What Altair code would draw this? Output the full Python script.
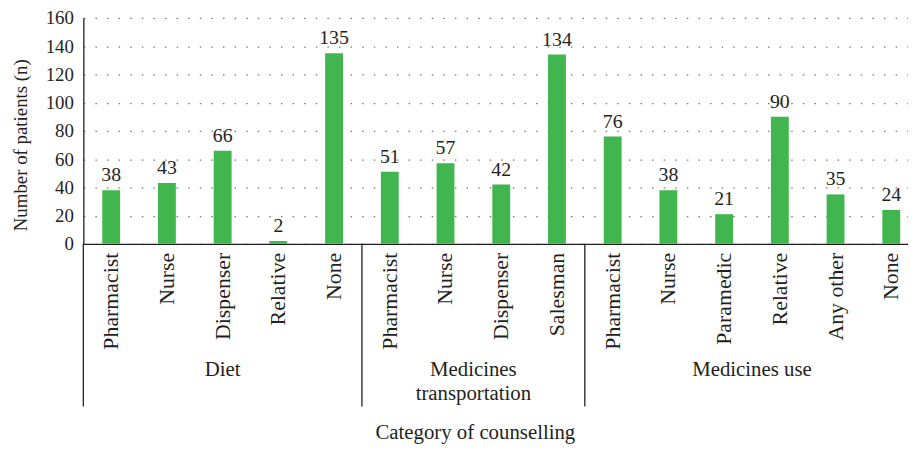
import altair as alt
import pandas as pd

# ---- data ----
roles = ["Pharmacist", "Nurse", "Dispenser", "Relative", "None",
         "Pharmacist", "Nurse", "Dispenser", "Salesman",
         "Pharmacist", "Nurse", "Paramedic", "Relative", "Any other", "None"]
counts = [38, 43, 66, 2, 135, 51, 57, 42, 134, 76, 38, 21, 90, 35, 24]
group_names = ["Diet", "Medicines\ntransportation", "Medicines use"]
group_sizes = [5, 4, 6]
y_ticks = [0, 20, 40, 60, 80, 100, 120, 140, 160]

FONT = "Liberation Serif"
FS = 20      # value labels
FY = 19      # tick labels
FT = 21      # words
FR = 22      # rotated category labels
INK = "#231f20"
GREEN = "#41b54e"

# tables built from the lists
bars = pd.DataFrame({"idx": list(range(len(roles))), "role": roles, "count": counts})
starts, s = [], 0
for n in group_sizes:
    starts.append(s)
    s += n
groups = pd.DataFrame({"gname": group_names, "start": starts,
                       "end": [a + b for a, b in zip(starts, group_sizes)]})
seps = pd.DataFrame({"b": starts})

H = 228
xscale = alt.Scale(domain=[0, 14.8], nice=False, zero=False, padding=0)
yscale = alt.Scale(domain=[0, 160], nice=False, padding=0)

xaxis = alt.Axis(labels=False, ticks=False, grid=False, domain=True,
                 domainColor=INK, domainWidth=1.3,
                 title="Category of counselling",
                 titleX=395, titleY=196, titleBaseline="alphabetic",
                 titleFont=FONT, titleFontSize=FT,
                 titleFontWeight="normal", titleColor=INK)
yaxis = alt.Axis(values=y_ticks, ticks=False, labelPadding=10,
                 labelFont=FONT, labelFontSize=FY, labelColor=INK,
                 grid=True, gridDash=[1.5, 10.2], gridColor="#777777",
                 gridWidth=1.4, domainColor=INK, domainWidth=1.3,
                 title="Number of patients (n)",
                 titleX=-63, titleY=128, titleAngle=270,
                 titleAlign="center", titleBaseline="middle",
                 titleFont=FONT, titleFontSize=19,
                 titleFontWeight="normal", titleColor=INK)

base = alt.Chart(bars).transform_calculate(pos="datum.idx + 0.5")

bar_layer = base.mark_bar(size=18, color=GREEN).encode(
    x=alt.X("pos:Q", scale=xscale, axis=xaxis),
    y=alt.Y("count:Q", scale=yscale, axis=yaxis),
)

value_labels = base.mark_text(font=FONT, fontSize=FS, color=INK,
                              baseline="alphabetic", dy=-9).encode(
    x=alt.X("pos:Q", scale=xscale, axis=xaxis),
    y=alt.Y("count:Q", scale=yscale, axis=yaxis),
    text="count:Q",
)

cat_labels = base.mark_text(font=FONT, fontSize=FR, color=INK, angle=270,
                            align="right", baseline="middle").encode(
    x=alt.X("pos:Q", scale=xscale, axis=xaxis),
    y=alt.value(H + 9),
    text="role:N",
)

group_labels = alt.Chart(groups).transform_calculate(
    center="(datum.start + datum.end) / 2"
).mark_text(font=FONT, fontSize=FT, color=INK, baseline="alphabetic",
            lineBreak="\n", lineHeight=25).encode(
    x=alt.X("center:Q", scale=xscale, axis=xaxis),
    y=alt.value(H + 133),
    text="gname:N",
)

sep_rules = alt.Chart(seps).mark_rule(color=INK, strokeWidth=1.3).encode(
    x=alt.X("b:Q", scale=xscale, axis=xaxis),
    y=alt.value(H),
    y2=alt.value(H + 164),
)

chart = alt.layer(bar_layer, value_labels, cat_labels, group_labels, sep_rules).properties(
    width=832, height=H,
    autosize=alt.AutoSizeParams(type="none"),
    padding={"left": 76, "top": 8, "right": 0, "bottom": 202},
    background="white",
).configure_view(stroke=None)

chart.save("out.html", embed_options={"renderer": "svg", "actions": False})
